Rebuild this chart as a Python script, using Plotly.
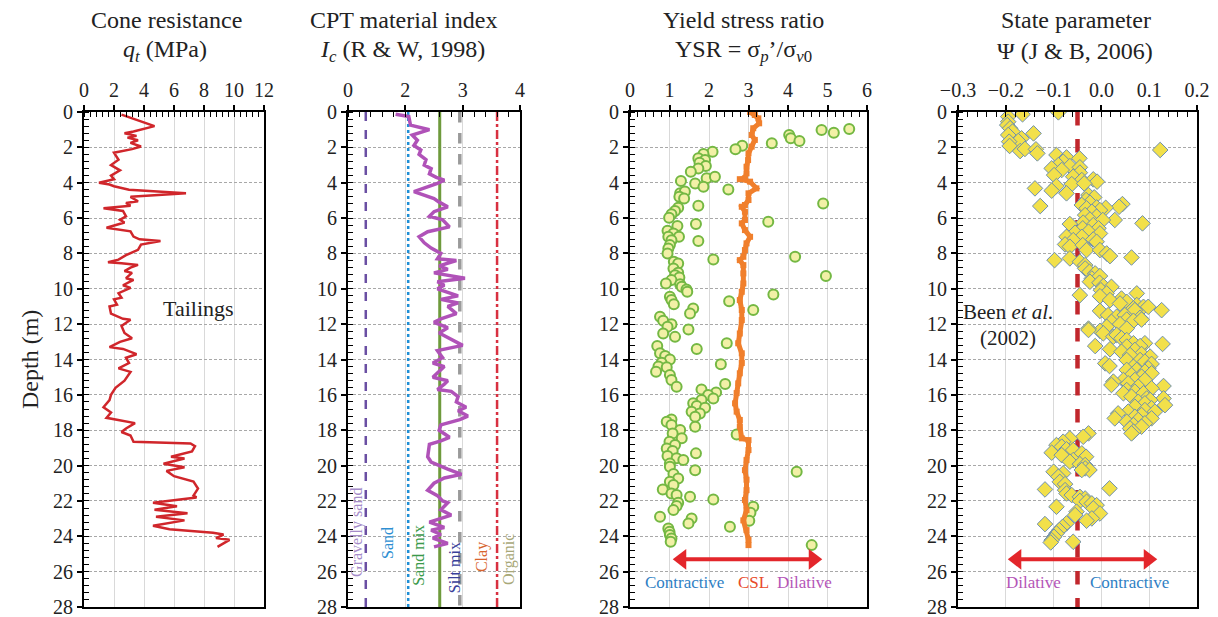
import plotly.graph_objects as go

# ---------------- data ----------------
# Cone resistance profile (MPa vs depth m)
qt_depth = [0.15, 0.8, 1.1, 1.2, 1.35, 1.45, 1.6, 1.75, 1.95, 2.1, 2.3, 2.7, 3.0, 3.3, 3.6, 3.8,
            4.0, 4.1, 4.2, 4.4, 4.6, 4.8, 5.05, 5.15, 5.3, 5.45, 5.6, 5.9, 6.1, 6.25, 6.55, 6.65,
            6.75, 7.05, 7.2, 7.3, 7.5, 7.8, 8.1, 8.35, 8.5, 8.55, 8.65, 8.8, 9.0, 9.1, 9.4, 9.5,
            9.8, 9.95, 10.25, 10.5, 10.6, 10.9, 11.0, 11.4, 11.7, 11.75, 12.1, 12.5, 12.8, 13.0,
            13.3, 13.4, 13.7, 13.9, 14.2, 14.5, 14.7, 15.2, 15.6, 16.0, 16.3, 16.7, 17.0, 17.3,
            17.5, 17.6, 17.9, 18.1, 18.3, 18.65, 18.75, 18.9, 19.2, 19.5, 19.6, 19.9, 20.1, 20.3,
            20.6, 20.9, 21.3, 21.7, 21.8, 22.1, 22.3, 22.5, 22.7, 22.9, 23.1, 23.4, 23.6, 23.8,
            23.9, 24.1, 24.2, 24.6]
qt_values = [2.5, 4.7, 3.3, 2.7, 3.5, 2.9, 3.6, 3.1, 3.8, 3.2, 2.0, 2.3, 1.8, 2.4, 1.8, 2.0,
             1.0, 1.7, 2.0, 3.0, 6.8, 3.1, 3.6, 2.8, 3.1, 1.3, 2.6, 2.8, 2.4, 2.7, 1.5, 2.3,
             3.1, 3.3, 3.7, 5.1, 3.8, 3.6, 2.8, 2.3, 1.6, 2.5, 3.6, 3.1, 2.7, 3.2, 2.8, 3.3,
             2.6, 3.1, 2.3, 2.5, 2.0, 2.2, 1.7, 1.8, 2.6, 3.1, 2.5, 2.7, 3.2, 2.4,
             1.7, 2.6, 3.5, 2.8, 3.0, 2.3, 3.1, 2.7, 2.1, 1.8, 1.7, 1.3, 1.8, 1.5,
             2.7, 3.4, 2.8, 2.5, 3.1, 3.3, 7.1, 7.4, 7.2, 5.8, 6.7, 5.3, 6.7, 5.5,
             6.0, 7.3, 7.6, 7.3, 7.5, 4.6, 6.2, 4.7, 6.9, 4.8, 6.7, 4.6, 5.7, 8.6,
             9.3, 8.8, 9.7, 8.9]

# CPT material index Ic profile
ic_depth = [0.13, 0.26, 0.74, 1.0, 1.3, 1.6, 1.9, 2.15, 2.4, 2.7, 3.0, 3.2, 3.5, 3.7, 3.85, 4.04,
            4.5, 4.7, 4.9, 5.1, 5.36, 5.64, 5.9, 6.1, 6.5, 6.77, 7.06, 7.4, 7.7, 8.0, 8.3, 8.4,
            8.7, 8.9, 9.1, 9.4, 9.6, 9.8, 10.0, 10.4, 10.6, 10.8, 11.0, 11.4, 11.7, 11.9, 12.2,
            12.5, 12.8, 13.2, 13.5, 13.9, 14.2, 14.4, 15.0, 15.2, 15.4, 15.7, 15.8, 16.1, 16.4,
            16.7, 16.9, 17.2, 17.4, 17.7, 18.0, 18.4, 18.6, 18.8, 19.5, 19.8, 20.2, 20.5, 20.7,
            21.0, 21.4, 21.7, 22.0, 22.1, 22.5, 22.8, 23.2, 23.5, 23.65, 23.9, 24.1, 24.4, 24.6]
ic_values = [1.83, 2.06, 2.09, 2.42, 2.12, 2.21, 2.15, 2.27, 2.24, 2.36, 2.33, 2.45, 2.42, 2.54, 2.68, 2.56,
             2.15, 2.33, 2.50, 2.59, 2.74, 2.50, 2.42, 2.65, 2.77, 2.39, 2.24, 2.33, 2.45, 2.62, 2.56, 2.89,
             2.59, 2.74, 2.50, 3.04, 2.56, 2.68, 2.56, 2.92, 2.62, 2.92, 2.74, 2.89, 2.62, 2.50, 2.74,
             2.59, 2.77, 3.00, 2.56, 2.65, 2.48, 2.68, 2.48, 2.74, 2.68, 2.56, 2.80, 2.92, 2.89,
             3.06, 2.92, 3.09, 2.95, 2.62, 2.59, 2.77, 2.62, 2.42, 2.39, 2.45, 2.74, 2.98, 2.68,
             2.50, 2.39, 2.56, 2.65, 2.74, 2.62, 2.80, 2.42, 2.68, 2.45, 2.62, 2.48, 2.74, 2.50]

# Soil behaviour type boundaries (Ic)
sbt_names = ["Gravelly sand", "Sand", "Sand mix", "Silt mix", "Clay"]
sbt_bounds = [1.31, 2.05, 2.60, 2.95, 3.60]

# Yield stress ratio points
ysr_depth = [0.96, 1.02, 1.17, 1.30, 1.49, 1.64, 1.77, 1.91, 2.11, 2.25, 2.38, 2.62, 2.72, 2.87,
             3.06, 3.19, 3.38, 3.90, 3.75, 3.66, 4.04, 4.23, 4.38, 4.60, 4.50, 4.79, 4.89, 5.30,
             5.42, 5.17, 5.60, 5.79, 5.98, 6.21, 6.45, 6.34, 6.72, 6.87, 7.06, 7.06, 7.25, 7.30,
             7.53, 7.72, 8.00, 8.19, 8.34, 8.47, 8.57, 8.85, 9.09, 9.23, 9.28, 9.36, 9.51, 9.70,
             9.74, 9.89, 10.04, 10.17, 10.32, 10.45, 10.64, 10.87, 10.70, 11.11, 11.40, 11.20,
             11.58, 11.81, 12.00, 12.15, 12.30, 12.53, 12.72,
             13.08, 13.24, 13.40, 13.65, 13.80, 14.00, 14.18, 14.40, 14.27, 14.44, 14.69, 14.88,
             15.16, 15.39, 15.54, 15.69, 15.86, 16.01, 16.20, 16.29, 16.48, 16.63, 16.73, 16.95,
             17.05, 17.24, 17.39, 17.52, 17.71, 17.80, 17.99, 18.18, 18.46, 18.24, 18.65, 18.84,
             19.03, 19.18, 19.46, 19.59, 19.69, 19.31, 19.88, 20.07, 20.26, 20.35, 20.48, 20.73,
             20.92, 21.10, 21.35, 21.58, 21.67, 21.77, 21.92, 22.10, 22.29, 22.33, 22.52, 22.67,
             22.90, 22.99, 23.27, 23.12, 23.46, 23.56, 23.75, 23.93, 24.12, 24.31, 24.50]
ysr_values = [5.55, 4.85, 5.16, 4.03, 4.07, 4.29, 3.59, 2.84, 2.67, 2.09, 1.86, 1.73, 1.90, 1.76,
              1.92, 1.73, 1.54, 1.29, 1.94, 2.15, 1.65, 1.86, 2.49, 1.27, 1.39, 1.25, 1.37, 1.73,
              1.22, 4.89, 1.14, 1.05, 0.99, 3.50, 1.20, 1.67, 0.95, 1.10, 0.97, 1.24, 1.05, 1.73,
              1.01, 0.97, 0.95, 4.18, 2.11, 1.11, 1.22, 1.10, 1.22, 1.14, 4.96, 1.25, 1.05, 0.91,
              1.27, 1.31, 1.43, 1.45, 3.63, 1.01, 1.05, 1.11, 2.51, 1.60, 1.52, 3.12,
              0.76, 0.84, 1.05, 0.95, 1.48, 0.84, 1.14,
              2.45, 0.69, 1.69, 0.76, 0.89, 1.01, 0.80, 0.72, 2.30, 0.93, 0.66, 1.01,
              1.05, 2.41, 1.18, 1.81, 2.18, 1.98, 2.11, 1.81, 1.60, 1.69, 1.90, 1.56,
              1.77, 1.65, 1.05, 0.93, 1.05, 1.65, 1.27, 1.08, 1.31, 2.70, 1.00, 1.14,
              0.93, 1.08, 0.95, 1.18, 1.35, 1.67, 1.01, 1.01, 1.65, 4.22, 1.10, 1.22,
              1.01, 1.10, 0.83, 1.05, 1.18, 1.52, 2.11, 1.22, 1.18, 3.12, 1.10, 3.05,
              0.76, 1.56, 1.48, 3.02, 2.53, 0.97, 1.00, 1.01, 1.05, 1.03, 4.60]

# Critical state line (YSR at CSL)
csl_depth = [0.0, 0.17, 0.36, 0.64, 0.92, 1.3, 1.58, 1.96, 2.34, 2.72, 3.1, 3.47, 3.75, 3.8, 3.94,
             4.32, 4.6, 4.98, 5.26, 5.36, 5.64, 6.11, 6.3, 6.68, 7.06, 7.43, 7.81, 8.19, 8.38, 8.66,
             9.13, 9.7, 10.17, 10.64, 11.2, 11.77, 12.53, 13.08, 13.65, 14.2, 14.78, 15.35, 15.9,
             16.48, 16.95, 17.42, 17.8, 18.46, 18.56, 19.12, 19.69, 20.26, 20.8, 21.39, 21.95,
             22.52, 23.1, 23.65, 24.2, 24.5]
csl_values = [3.04, 3.16, 3.25, 3.27, 3.12, 3.08, 3.16, 3.08, 3.00, 2.99, 2.95, 2.95, 2.91, 2.78, 3.04,
              3.20, 3.00, 3.00, 2.91, 2.83, 2.91, 2.91, 2.83, 2.91, 3.04, 2.95, 2.91, 2.87, 2.78, 2.87,
              2.87, 2.87, 2.83, 2.78, 2.83, 2.83, 2.78, 2.74, 2.83, 2.83, 2.78, 2.74, 2.70,
              2.66, 2.70, 2.78, 2.78, 2.83, 3.00, 3.00, 2.95, 2.91, 2.95, 2.95, 2.91,
              2.95, 2.87, 2.95, 3.00, 3.00]

# State parameter points
psi_depth = [0.26, 0.13, 0.02, 0.55, 0.74, 0.92, 1.11, 1.21, 1.30, 1.49, 1.64, 1.68, 1.92, 2.21,
             2.09, 2.11, 2.34, 2.15, 2.43, 2.57, 2.62, 2.81, 3.00, 3.06, 3.19, 3.13, 3.28, 3.43,
             3.57, 3.66, 3.85, 3.81, 3.94, 4.08, 4.04, 4.19, 4.32, 4.45, 4.60, 4.70, 4.83, 4.98,
             5.13, 5.26, 5.40, 5.21, 5.36, 5.32, 5.45, 5.42, 5.55, 5.64, 5.83, 5.92, 6.08, 6.11,
             6.11, 6.26, 6.30, 6.40, 6.34, 6.58, 6.58, 6.77, 6.83, 6.87, 7.06, 7.06, 7.21, 7.25,
             7.49, 7.62, 7.34, 7.53, 7.81, 7.81, 8.00, 8.15, 8.23, 8.38, 8.28, 8.47, 8.66, 8.85,
             9.04, 9.13, 9.42, 9.28, 9.60, 9.66, 9.85, 9.89, 10.08, 10.26, 10.36, 10.42, 10.26,
             10.55, 10.64, 10.74, 10.83, 10.92, 11.02, 11.11, 11.02, 11.25, 11.21, 11.21, 11.49,
             11.58, 11.49, 11.64, 11.74, 11.87, 11.81, 11.74, 12.00, 12.15, 12.38, 12.25, 12.25,
             12.33, 12.52, 12.71, 12.61, 12.80, 12.90, 13.08, 13.08, 13.12, 13.24, 13.27, 13.24,
             13.42, 13.46, 13.56, 13.69, 13.75, 13.84, 14.03, 14.03, 14.12, 14.22, 14.37, 14.25,
             14.41, 14.50, 14.59, 14.59, 14.69, 14.78, 14.88, 14.97, 15.16, 15.16, 15.16, 15.25,
             15.44, 15.35, 15.54, 15.50, 15.73, 15.63, 15.82, 15.91, 15.91, 16.10, 16.20, 16.20,
             16.39, 16.29, 16.48, 16.58, 16.67, 16.76, 16.86, 16.95, 16.95, 17.05, 17.14, 17.24,
             17.33, 17.33, 17.42, 17.52, 17.61, 17.71, 17.90, 17.80, 18.08, 18.18,
             18.18, 18.37, 18.46, 18.65, 18.84, 18.93, 19.08, 19.12, 19.27, 19.41, 19.31, 19.50,
             19.69, 19.78, 19.92, 19.97, 20.16, 20.25, 20.25, 20.35, 20.44, 20.63, 20.92, 21.05,
             21.29, 21.35, 21.39, 21.58, 21.67, 21.77, 21.86, 22.00, 22.05, 22.14, 22.24, 22.33,
             22.42, 22.71, 22.61, 22.80, 22.99, 23.12, 23.27, 23.31, 23.46, 23.65, 23.84, 24.03,
             24.22, 24.31, 24.35]
psi_values = [-0.195, -0.165, -0.090, -0.195, -0.197, -0.191, -0.186, -0.142, -0.195, -0.167, -0.174,
              -0.193, -0.192, -0.170, -0.160, -0.137, -0.134, 0.123, -0.094, -0.073, -0.046, -0.080,
              -0.090, -0.066, -0.104, -0.045, -0.083, -0.045, -0.099, -0.059, -0.041, -0.017, -0.009,
              -0.062, -0.036, -0.094, -0.139, -0.104, -0.073, -0.027, -0.015, -0.032, -0.024, -0.041,
              -0.010, 0.044, 0.037, -0.128, -0.031, 0.009, -0.003, -0.020, -0.034, -0.010, -0.024,
              0.028, 0.003, -0.038, 0.086, -0.017, -0.066, -0.006, -0.039, -0.027, -0.055, -0.003,
              -0.041, -0.073, -0.017, -0.059, -0.076, -0.066, -0.010, -0.039, -0.031, -0.003, 0.011,
              0.018, 0.063, -0.098, -0.066, -0.045, -0.034, -0.034, -0.025, -0.013, -0.020, -0.003,
              -0.024, -0.004, 0.004, 0.021, -0.001, 0.011, -0.045, -0.003, 0.074, 0.042, 0.018,
              0.053, 0.039, 0.074, 0.088, 0.067, 0.098, -0.003, 0.070, 0.126, 0.014, 0.032, 0.049,
              0.081, 0.053, 0.021, 0.067, 0.084, 0.039, 0.011, -0.003, -0.027, 0.053,
              -0.027, 0.004, 0.025, 0.032, 0.042, 0.053, 0.067, 0.091, 0.128, -0.013, 0.053, 0.081,
              0.018, 0.070, 0.042, 0.084, 0.060, 0.102, 0.053, 0.081, 0.091, 0.008, 0.017, 0.105,
              0.067, 0.098, 0.053, 0.074, 0.091, 0.105, 0.063, 0.084, 0.046, 0.070, 0.091, 0.025,
              0.021, 0.056, 0.077, 0.130, 0.053, 0.105, 0.070, 0.088, 0.046, 0.063, 0.095, 0.130,
              0.077, 0.102, 0.091, 0.133, 0.070, 0.105, 0.091, 0.056, 0.112, 0.035, 0.084, 0.070,
              0.028, 0.105, 0.077, 0.053, 0.091, 0.067, 0.060, 0.084, 0.067, 0.063,
              -0.027, -0.038, -0.066, -0.080, -0.094, -0.083, -0.073, -0.059, -0.104, -0.083, -0.041,
              -0.032, -0.059, -0.066, -0.045, -0.034, -0.034, -0.025, -0.041, -0.100, -0.080, -0.090,
              -0.087, -0.076, 0.017, -0.118, -0.076, -0.073, -0.062, -0.045, -0.034, -0.045, -0.031,
              -0.020, -0.010, -0.094, -0.017, -0.003, -0.052, -0.055, -0.020, -0.031, -0.073, -0.118,
              -0.081, -0.088, -0.094, -0.099, -0.104, -0.059, -0.106]

psi_boundary = -0.05

# Contractive/dilative arrows: (x start, x end, depth)
ysr_arrow = [1.31, 4.64, 25.3]
psi_arrow = [-0.177, 0.098, 25.3]

# Axis tick labels
depth_ticks = list(range(0, 29, 2))
ic_tickvals = [1, 2, 3, 4]
ic_ticktext = ["0", "2", "3", "4"]

# ---------------- figure ----------------
FONT = "Liberation Serif"
W, H = 1218, 617


def px(x):
    return x / W


def py(y):
    return 1 - y / H


y_dom = [py(607), py(112)]
x_doms = [[px(84), px(264)], [px(348), px(520)], [px(630), px(867)], [px(958), px(1197)]]

fig = go.Figure()

# Panel 1: cone resistance
fig.add_trace(go.Scatter(x=qt_values, y=qt_depth, mode="lines",
                         line=dict(color="#d0262b", width=2.5), xaxis="x", yaxis="y"))

# Panel 2: boundary lines and Ic
bound_styles = [("#6a4fa3", "dash", 2.5), ("#1f8fd6", "dot", 2.5), ("#6e9a3c", "solid", 3),
                ("#9a9a9a", "dash", 3.5), ("#d83040", "dashdot", 2.5)]
for val, (col, dash, w) in zip(sbt_bounds, bound_styles):
    fig.add_trace(go.Scatter(x=[val, val], y=[0, 28], mode="lines",
                             line=dict(color=col, dash=dash, width=w),
                             xaxis="x2", yaxis="y2"))
fig.add_trace(go.Scatter(x=ic_values, y=ic_depth, mode="lines",
                         line=dict(color="#b052b8", width=3.5), xaxis="x2", yaxis="y2"))

# Panel 3: YSR and CSL
fig.add_trace(go.Scatter(x=ysr_values, y=ysr_depth, mode="markers",
                         marker=dict(symbol="circle", size=10, color="#f2f0a6",
                                     line=dict(color="#74b843", width=2)),
                         xaxis="x3", yaxis="y3"))
fig.add_trace(go.Scatter(x=csl_values, y=csl_depth, mode="lines+markers",
                         line=dict(color="#f07f2c", width=5),
                         marker=dict(symbol="square", size=6, color="#f07f2c"),
                         xaxis="x3", yaxis="y3"))

# Panel 4: state parameter
fig.add_trace(go.Scatter(x=[psi_boundary, psi_boundary], y=[0, 28], mode="lines",
                         line=dict(color="#c1272d", width=4.5, dash="dash"),
                         xaxis="x4", yaxis="y4"))
fig.add_trace(go.Scatter(x=psi_values, y=psi_depth, mode="markers",
                         marker=dict(symbol="diamond", size=12, color="#f2e04a",
                                     line=dict(color="#6d8fb0", width=1)),
                         xaxis="x4", yaxis="y4"))

# double-headed arrows drawn as a shaft with triangular heads
for (x0, x1, d), ax in [(ysr_arrow, "3"), (psi_arrow, "4")]:
    fig.add_trace(go.Scatter(x=[x0, x1], y=[d, d], mode="lines",
                             line=dict(color="#e3262b", width=4),
                             xaxis="x" + ax, yaxis="y" + ax))
    fig.add_trace(go.Scatter(x=[x0, x1], y=[d, d], mode="markers",
                             marker=dict(symbol=["triangle-left", "triangle-right"], size=18,
                                         color="#e3262b", line=dict(width=0)),
                             xaxis="x" + ax, yaxis="y" + ax))

fig.update_traces(showlegend=False, hoverinfo="skip")

# ---------------- axes ----------------
x_specs = [
    dict(range=[0, 12], dtick=2, minor=dict(dtick=0.4)),
    dict(range=[1, 4], tickmode="array", tickvals=ic_tickvals, ticktext=ic_ticktext,
         minor=dict(tickmode="linear", tick0=1, dtick=0.2)),
    dict(range=[0, 6], dtick=1, minor=dict(dtick=0.2)),
    dict(range=[-0.3, 0.2], dtick=0.1, tickformat=".1f", minor=dict(dtick=0.02)),
]
layout = dict(width=W, height=H, margin=dict(l=0, r=0, t=0, b=0, autoexpand=False),
              paper_bgcolor="white", plot_bgcolor="white", showlegend=False)
for i, spec in enumerate(x_specs):
    n = "" if i == 0 else str(i + 1)
    minor = dict(ticks="inside", ticklen=5, tickcolor="black", tickwidth=1.2, showgrid=False)
    minor.update(spec.pop("minor"))
    layout["xaxis" + n] = dict(domain=x_doms[i], anchor="y" + n, side="top", automargin=False,
                               showline=True, linecolor="black", linewidth=2, mirror=True,
                               ticks="outside", ticklen=5, tickwidth=1.5, tickcolor="black",
                               showgrid=True, gridcolor="#d9d9d9", gridwidth=1,
                               zeroline=False, minor=minor, ticklabeloverflow="allow",
                               tickfont=dict(family=FONT, size=20, color="#222"),
                               **spec)
    layout["yaxis" + n] = dict(domain=y_dom, anchor="x" + n, range=[28, 0], automargin=False,
                               tickmode="array", tickvals=depth_ticks,
                               ticklabeloverflow="allow",
                               showline=True, linecolor="black", linewidth=2, mirror=True,
                               ticks="outside", ticklen=5, tickwidth=1.5, tickcolor="black",
                               showgrid=True, gridcolor="#a8a8a8", gridwidth=1, griddash="3px,2px",
                               zeroline=False,
                               minor=dict(ticks="inside", ticklen=5, tickcolor="black",
                                          tickwidth=1.2, tickmode="linear", tick0=0, dtick=0.4,
                                          showgrid=False),
                               tickfont=dict(family=FONT, size=20, color="#222"))
fig.update_layout(**layout)

# ---------------- text ----------------
ann = []


def paper_text(x, y, text, size=24, color="#222", angle=0):
    ann.append(dict(x=px(x), y=py(y), xref="paper", yref="paper", text=text, showarrow=False,
                    font=dict(family=FONT, size=size, color=color), textangle=angle,
                    xanchor="center", yanchor="middle"))


paper_text(166, 20, "Cone resistance")
paper_text(165, 51, "<i>q</i><sub><i>t</i></sub> (MPa)")
paper_text(404, 20, "CPT material index")
paper_text(402, 51, "<i>I</i><sub><i>c</i></sub> (R &amp; W, 1998)")
paper_text(743, 20, "Yield stress ratio")
paper_text(743, 51, "YSR = σ<sub><i>p</i></sub>’/σ<sub><i>v</i>0</sub>")
paper_text(1076, 20, "State parameter")
paper_text(1075, 51, "Ψ (J &amp; B, 2006)")
paper_text(30, 360, "Depth (m)", size=24, angle=-90)


def data_text(ax, x, y, text, color, size=17, angle=0):
    ann.append(dict(x=x, y=y, xref=ax, yref=ax.replace("x", "y"), text=text, showarrow=False,
                    font=dict(family=FONT, size=size, color=color), textangle=angle,
                    xanchor="center", yanchor="middle"))


data_text("x", 7.6, 11.1, "Tailings", "#222", size=22)

label_pos = [(1.16, 23.8, "Gravelly sand", "#a58bc9"), (1.69, 24.4, "Sand", "#2e8fd2"),
             (2.24, 25.1, "Sand mix", "#3a9a4a"), (2.85, 25.8, "Silt mix", "#3a3f9a"),
             (3.33, 25.2, "Clay", "#d8642e"), (3.82, 25.3, "Organic", "#a8a878")]
for x, y, t, c in label_pos:
    data_text("x2", x, y, t, c, size=16, angle=-90)

data_text("x3", 1.39, 26.6, "Contractive", "#2f7fc4")
data_text("x3", 3.12, 26.6, "CSL", "#e84a2a")
data_text("x3", 4.43, 26.6, "Dilative", "#b455b8")

data_text("x4", -0.142, 26.6, "Dilative", "#b455b8")
data_text("x4", 0.058, 26.6, "Contractive", "#2f7fc4")
data_text("x4", -0.195, 11.3, "Been <i>et al.</i>", "#222", size=21)
data_text("x4", -0.195, 12.8, "(2002)", "#222", size=21)

fig.update_layout(annotations=ann)
fig.write_html("out.html")
